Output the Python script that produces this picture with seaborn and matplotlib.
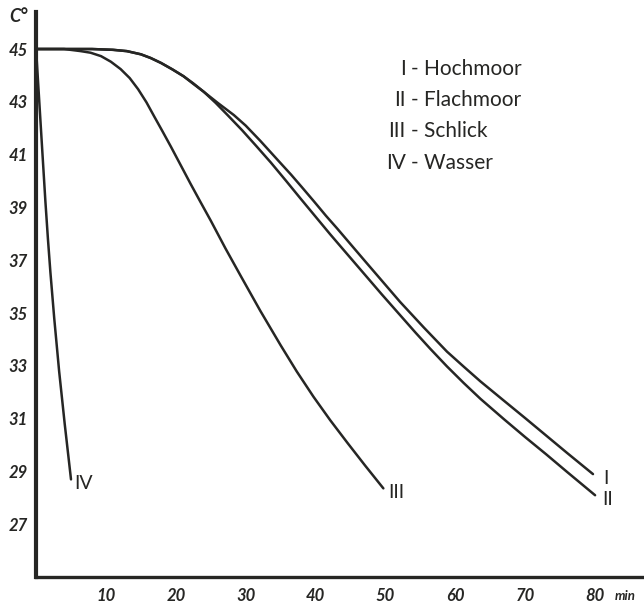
import matplotlib
matplotlib.use("Agg")
import matplotlib.pyplot as plt
import seaborn as sns
import pandas as pd

# cooling curves, temperature (C) over time (min)
t_hochmoor = [0, 8, 11, 13, 15, 16.4, 17.9, 19.5, 21.1, 22.5, 24, 26, 28.3, 30, 32.1, 34.5, 36.5, 38,
              39.8, 41.5, 43.1, 45, 47, 49.5, 52.1, 55.5, 58.8, 61.2, 63.6, 67, 70, 73, 76, 79.7]
T_hochmoor = [45, 45, 44.97, 44.92, 44.8, 44.66, 44.47, 44.23, 43.97, 43.68, 43.38, 42.96, 42.5, 42.1,
              41.52, 40.82, 40.24, 39.78, 39.22, 38.68, 38.2, 37.61, 36.99, 36.22, 35.42, 34.45, 33.54,
              32.97, 32.41, 31.67, 31.02, 30.36, 29.7, 28.9]

t_flachmoor = [0, 8, 11, 13, 15, 16.4, 17.9, 19.5, 21.1, 22.5, 24, 25.7, 27.4, 29.5, 31.5, 33.6, 35.8,
               37.9, 40, 42.1, 44.5, 47, 49.5, 52.1, 54.3, 56.4, 58.8, 61.2, 63.6, 67, 70, 73, 76, 80]
T_flachmoor = [45, 45, 44.97, 44.92, 44.8, 44.66, 44.47, 44.23, 43.97, 43.7, 43.38, 42.96, 42.5, 41.92,
               41.33, 40.7, 40.0, 39.32, 38.65, 37.98, 37.24, 36.47, 35.7, 34.92, 34.26, 33.65, 32.98,
               32.35, 31.75, 30.97, 30.3, 29.65, 28.98, 28.1]

t_schlick = [0, 4, 6.4, 7.8, 9.3, 10.7, 12.1, 13.4, 14.6, 15.8, 16.9, 18.1, 19.3, 20.7, 22.1, 23.5, 25,
             27.1, 29.3, 32.1, 35, 37.3, 39.7, 42.1, 44.6, 47.1, 49.7]
T_schlick = [45, 45, 44.92, 44.86, 44.73, 44.52, 44.24, 43.9, 43.48, 42.98, 42.45, 41.88, 41.3, 40.6,
             39.9, 39.22, 38.5, 37.45, 36.4, 35.08, 33.78, 32.79, 31.83, 30.94, 30.07, 29.22, 28.36]

t_wasser = [0, 0.45, 0.9, 1.33, 1.7, 2.05, 2.6, 3.3, 4.1, 5.0]
T_wasser = [45, 43.05, 41.1, 39.25, 37.8, 36.55, 34.8, 32.8, 30.8, 28.7]

curve_names = ["I", "II", "III", "IV"]
legend_names = ["Hochmoor", "Flachmoor", "Schlick", "Wasser"]
x_ticks = [10, 20, 30, 40, 50, 60, 70, 80]
y_ticks = [27, 29, 31, 33, 35, 37, 39, 41, 43, 45]

ink = "#262624"

sns.set_style("white")
plt.rcParams["font.family"] = ["Lato", "DejaVu Sans"]

df = pd.concat([
    pd.DataFrame({"t": t_hochmoor, "T": T_hochmoor, "k": "I"}),
    pd.DataFrame({"t": t_flachmoor, "T": T_flachmoor, "k": "II"}),
    pd.DataFrame({"t": t_schlick, "T": T_schlick, "k": "III"}),
    pd.DataFrame({"t": t_wasser, "T": T_wasser, "k": "IV"}),
])

fig = plt.figure(figsize=(6.44, 6.03), dpi=100)
ax = fig.add_axes([0.056, 0.043, 0.944, 0.937])

sns.lineplot(data=df, x="t", y="T", units="k", estimator=None, sort=False,
             color=ink, lw=1.8, ax=ax)
for ln in ax.get_lines():
    ln.set_solid_joinstyle("round")

ax.set_xlim(0, 87)
ax.set_ylim(25, 46.4)
ax.set_xlabel("")
ax.set_ylabel("")
sns.despine(ax=ax)
for side in ["left", "bottom"]:
    ax.spines[side].set_color(ink)
ax.spines["left"].set_linewidth(3.0)
ax.spines["bottom"].set_linewidth(2.4)

ax.set_xticks(x_ticks)
ax.set_yticks(y_ticks)
ax.tick_params(length=0, labelsize=12, colors=ink)
ax.tick_params(axis="x", pad=8)
ax.tick_params(axis="y", pad=6)
for lab in ax.get_xticklabels() + ax.get_yticklabels():
    lab.set_fontstyle("italic")
    lab.set_fontweight("bold")

# labels at the curve ends
ends = [(t_hochmoor[-1], T_hochmoor[-1]), (t_flachmoor[-1], T_flachmoor[-1]),
        (t_schlick[-1], T_schlick[-1]), (t_wasser[-1], T_wasser[-1])]
for name, (x, y) in zip(curve_names, ends):
    ax.text(x + 1.8, y - 0.15, name, fontsize=14, color=ink, ha="center", va="center")

# legend block
for i, (num, nm) in enumerate(zip(curve_names, legend_names)):
    y = 44.24 - i * 1.18
    ax.text(52.9, y, num, fontsize=15, color=ink, ha="right", va="center")
    ax.text(53.6, y, "- " + nm, fontsize=15, color=ink, ha="left", va="center")

fig.text(0.028, 0.972, "C°", fontsize=13, style="italic", fontweight="bold",
         color=ink, ha="center", va="center")
fig.text(0.970, 0.011, "min", fontsize=9.5, style="italic", fontweight="bold",
         color=ink, ha="center", va="center")

fig.savefig("out.png", dpi=100)
